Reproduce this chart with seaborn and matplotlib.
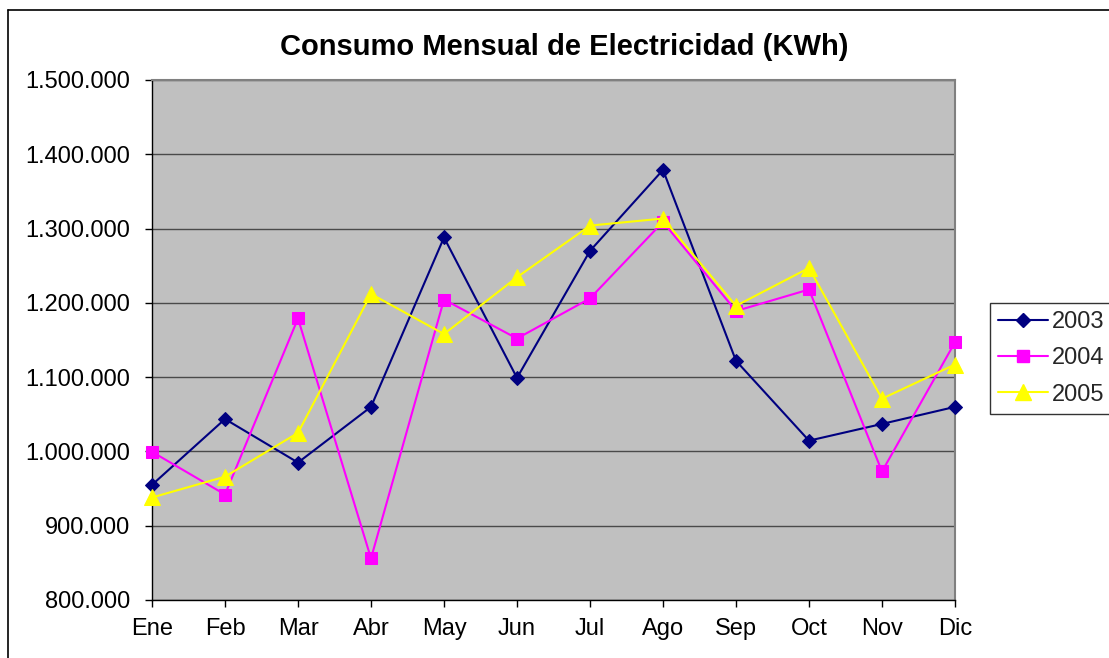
import matplotlib
matplotlib.use("Agg")
import matplotlib.pyplot as plt
import seaborn as sns
import pandas as pd
from matplotlib.lines import Line2D
from matplotlib.ticker import FuncFormatter, MultipleLocator

months = ["Ene", "Feb", "Mar", "Abr", "May", "Jun", "Jul", "Ago", "Sep", "Oct", "Nov", "Dic"]
years = ["2003", "2004", "2005"]
v2003 = [955000, 1043600, 985000, 1060000, 1288000, 1099000, 1270000, 1379000, 1122000, 1014500, 1037000, 1060000]
v2004 = [999500, 942000, 1179000, 856000, 1204500, 1152000, 1206000, 1309000, 1189000, 1218000, 973000, 1147000]
v2005 = [938000, 966000, 1025000, 1212000, 1158000, 1234500, 1304000, 1313500, 1196000, 1247000, 1071000, 1117000]

colors = {"2003": "#000080", "2004": "#FF00FF", "2005": "#FFFF00"}
markers = {"2003": "D", "2004": "s", "2005": "^"}
msizes = {"2003": 7.5, "2004": 8.5, "2005": 11}

rows = []
for y, vals in zip(years, [v2003, v2004, v2005]):
    for i, v in enumerate(vals):
        rows.append({"idx": i, "mes": months[i], "year": y, "kwh": v})
df = pd.DataFrame(rows)

sns.set_theme(style="white")
plt.rcParams["font.family"] = ["Liberation Sans", "DejaVu Sans"]

W, H = 1109, 658
fig = plt.figure(figsize=(W / 100, H / 100), dpi=100)
fig.patch.set_facecolor("white")

# outer chart border
fig.add_artist(Line2D([8 / W, 8 / W], [0, 1 - 10 / H], transform=fig.transFigure, color="black", lw=1.2))
fig.add_artist(Line2D([8 / W, 1], [1 - 10 / H, 1 - 10 / H], transform=fig.transFigure, color="black", lw=1.2))

L, R, T, B = 152, 955, 80, 600
ax = fig.add_axes([L / W, 1 - B / H, (R - L) / W, (B - T) / H])
ax.set_facecolor("#C0C0C0")

for y in years:
    sub = df[df["year"] == y]
    sns.lineplot(data=sub, x="idx", y="kwh", ax=ax, color=colors[y], marker=markers[y],
                 markersize=msizes[y], markeredgecolor=colors[y], linewidth=1.5,
                 label=y, zorder=3, clip_on=False)

ax.set_xlim(0, 11)
ax.set_ylim(800000, 1500000)
ax.set_xticks(range(12))
ax.set_xticklabels(months)
ax.yaxis.set_major_locator(MultipleLocator(100000))
ax.yaxis.set_major_formatter(FuncFormatter(lambda v, p: f"{int(v):,}".replace(",", ".")))
ax.set_xlabel("")
ax.set_ylabel("")
ax.grid(axis="y", color="#4a4a4a", linewidth=1.0)
ax.grid(axis="x", visible=False)
ax.set_axisbelow(True)

for s in ["top", "right"]:
    ax.spines[s].set_color("#808080")
    ax.spines[s].set_linewidth(1.5)
for s in ["left", "bottom"]:
    ax.spines[s].set_color("black")
    ax.spines[s].set_linewidth(1.0)

ax.tick_params(axis="both", which="major", direction="out", length=5, width=1, color="black",
               labelsize=17, labelcolor="black", left=True, bottom=True)
ax.tick_params(axis="x", pad=8)
ax.tick_params(axis="y", pad=11)

fig.text(564 / W, 1 - 47 / H, "Consumo Mensual de Electricidad (KWh)", ha="center", va="center",
         fontsize=21, fontweight="bold", color="black")

handles = [Line2D([0], [0], color=colors[y], marker=markers[y], markersize=msizes[y],
                  markeredgecolor=colors[y], linewidth=1.5) for y in years]
leg = fig.legend(handles, years, loc="upper left", bbox_to_anchor=(990 / W, 1 - 303 / H),
                 bbox_transform=fig.transFigure, frameon=True, fancybox=False, fontsize=17,
                 handlelength=2.1, handletextpad=0.15, borderpad=0.35, labelspacing=0.6,
                 borderaxespad=0, edgecolor="black")
leg.get_frame().set_linewidth(1.0)
ax.get_legend().remove()

fig.savefig("out.png", dpi=100, facecolor="white")
